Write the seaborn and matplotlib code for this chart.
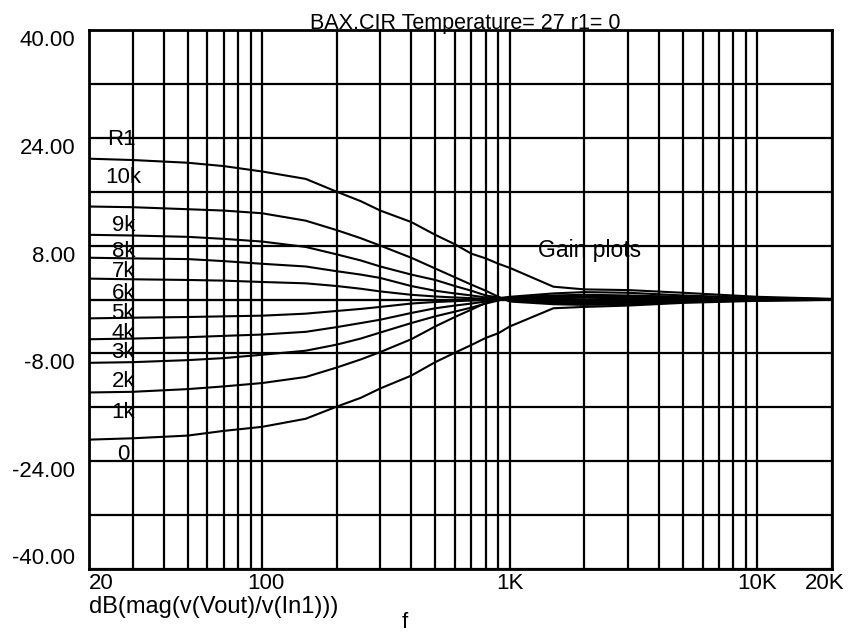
import matplotlib
matplotlib.use("Agg")
import matplotlib.pyplot as plt
from matplotlib.ticker import FixedLocator, NullFormatter
from matplotlib.transforms import ScaledTranslation
import seaborn as sns
import pandas as pd

# ---------------- data ----------------
freqs = [20, 30, 50, 70, 100, 150, 200, 250, 300, 400, 500, 600, 700, 800, 900, 1000,
         1500, 2000, 3000, 5000, 10000, 20000]
r1_names = ["10k", "9k", "8k", "7k", "6k", "5k", "4k", "3k", "2k", "1k", "0"]
g10k = [20.9, 20.7, 20.3, 19.8, 19.0, 17.9, 16.0, 14.6, 13.2, 11.5, 9.6, 8.2, 6.8, 6.1, 5.3, 4.7,
        1.9, 1.5, 1.4, 1.0, 0.4, 0.1]
g9k = [13.8, 13.7, 13.4, 13.2, 12.8, 11.7, 10.3, 9.1, 8.0, 6.2, 4.6, 3.3, 2.2, 1.3, 0.4, -0.3,
       -0.7, -0.8, -0.7, -0.4, -0.15, -0.05]
g8k = [9.6, 9.5, 9.3, 9.0, 8.6, 7.8, 6.7, 5.8, 4.9, 3.7, 2.9, 2.0, 1.3, 0.6, 0.3, -0.2,
       -0.5, -0.6, -0.5, -0.3, -0.1, 0.0]
g7k = [6.2, 6.1, 6.0, 5.7, 5.3, 4.9, 4.2, 3.7, 3.2, 2.0, 1.3, 0.9, 0.6, 0.3, 0.2, -0.1,
       -0.3, -0.4, -0.3, -0.2, -0.1, 0.0]
g6k = [3.1, 3.0, 2.9, 2.8, 2.6, 2.4, 2.0, 1.6, 1.2, 0.7, 0.45, 0.3, 0.2, 0.1, 0.1, 0.0,
       -0.1, -0.2, -0.15, -0.1, 0.0, 0.0]
g5k = [0.0, 0.0, 0.0, 0.0, 0.0, 0.0, 0.0, 0.0, 0.0, 0.0, 0.0, 0.0, 0.0, 0.0, 0.0, 0.0,
       0.0, 0.0, 0.0, 0.0, 0.0, 0.0]
g4k = [-2.8, -2.7, -2.6, -2.5, -2.4, -2.1, -1.7, -1.4, -1.1, -0.6, -0.37, -0.25, -0.15, -0.08, -0.05, 0.1,
       0.2, 0.25, 0.2, 0.1, 0.05, 0.0]
g3k = [-5.9, -5.8, -5.6, -5.4, -5.2, -4.8, -4.1, -3.5, -3.0, -2.0, -1.3, -0.9, -0.6, -0.3, -0.1, 0.2,
       0.4, 0.5, 0.4, 0.25, 0.1, 0.0]
g2k = [-9.4, -9.3, -9.0, -8.7, -8.2, -7.6, -6.7, -5.8, -4.9, -3.5, -2.5, -1.8, -1.2, -0.6, -0.15, 0.3,
       0.6, 0.7, 0.6, 0.4, 0.15, 0.05]
g1k = [-13.8, -13.7, -13.3, -12.9, -12.4, -11.5, -10.1, -8.9, -7.8, -5.9, -4.0, -2.6, -1.5, -0.5, 0.2, 0.4,
       0.9, 1.1, 1.0, 0.6, 0.25, 0.05]
g0 = [-20.8, -20.6, -20.2, -19.5, -18.9, -17.7, -15.9, -14.6, -13.2, -11.3, -9.3, -7.9, -6.75, -5.7, -5.0, -4.0,
      -1.3, -1.1, -0.9, -0.5, -0.2, -0.05]
series = [g10k, g9k, g8k, g7k, g6k, g5k, g4k, g3k, g2k, g1k, g0]

label_y = [18.1, 11.0, 7.1, 4.2, 0.9, -2.1, -5.0, -7.9, -12.2, -16.8, -23.0]
label_hdr_y = 23.7

x_major = [20, 100, 1000, 10000, 20000]
x_major_labels = ["20", "100", "1K", "10K", "20K"]
x_minor = [30, 40, 50, 60, 70, 80, 90, 200, 300, 400, 500, 600, 700, 800, 900,
           2000, 3000, 4000, 5000, 6000, 7000, 8000, 9000]
y_major = [-40, -24, -8, 8, 24, 40]
y_major_labels = ["-40.00", "-24.00", "-8.00", "8.00", "24.00", "40.00"]
y_minor = [-32, -16, 0, 16, 32]

title = "BAX.CIR Temperature= 27 r1= 0"
trace_label = "dB(mag(v(Vout)/v(In1)))"
x_name = "f"
note = "Gain plots"

# ---------------- build frame ----------------
rows = []
for name, vals in zip(r1_names, series):
    for f, v in zip(freqs, vals):
        rows.append({"f": f, "dB": v, "R1": name})
df = pd.DataFrame(rows)

sns.set_style("white")
plt.rcParams["font.family"] = ["Liberation Sans", "DejaVu Sans"]
plt.rcParams["text.color"] = "black"
FS = 16

W, H = 849, 633
fig = plt.figure(figsize=(W / 100, H / 100), dpi=100)
L, R, T, B = 89, 832, 30, 569
ax = fig.add_axes([L / W, 1 - B / H, (R - L) / W, (B - T) / H])

sns.lineplot(data=df, x="f", y="dB", hue="R1", hue_order=r1_names,
             palette=["black"] * len(r1_names), legend=False,
             estimator=None, errorbar=None, linewidth=1.5, ax=ax, zorder=3)

ax.set_xscale("log")
ax.set_xlim(20, 20000)
ax.set_ylim(-40, 40)

ax.xaxis.set_major_locator(FixedLocator(x_major))
ax.xaxis.set_minor_locator(FixedLocator(x_minor))
ax.xaxis.set_minor_formatter(NullFormatter())
ax.set_xticklabels(x_major_labels)
ax.yaxis.set_major_locator(FixedLocator(y_major))
ax.yaxis.set_minor_locator(FixedLocator(y_minor))
ax.set_yticklabels(y_major_labels)

ax.grid(True, which="both", color="black", linewidth=1.6)
ax.set_axisbelow(True)
ax.tick_params(which="both", length=0, labelsize=FS, colors="black", labelcolor="black")
ax.tick_params(axis="x", pad=3)
ax.tick_params(axis="y", pad=10)
for sp in ax.spines.values():
    sp.set_color("black")
    sp.set_linewidth(2)

for lab in ax.get_yticklabels():
    lab.set_va("bottom" if lab.get_text() == "-40.00" else "top")
for lab in ax.get_xticklabels():
    t = lab.get_text()
    if t == "20":
        lab.set_ha("left")
    elif t == "20K":
        lab.set_transform(lab.get_transform() + ScaledTranslation(-7 / 100, 0, fig.dpi_scale_trans))
    elif t == "100":
        lab.set_transform(lab.get_transform() + ScaledTranslation(4 / 100, 0, fig.dpi_scale_trans))

ax.set_xlabel("")
ax.set_ylabel("")

# curve labels
ax.text(27, label_hdr_y, "R1", fontsize=FS, ha="center", va="center", zorder=4, color="black")
for name, yv in zip(r1_names, label_y):
    ax.text(27.5, yv, name, fontsize=FS, ha="center", va="center", zorder=4, color="black")

ax.text(2107, 7.3, note, fontsize=16.5, ha="center", va="center", zorder=4, color="black")

fig.text(465 / W, 1 - 29 / H, title, fontsize=15.5, ha="center", va="baseline", color="black")
fig.text(89 / W, 1 - 607 / H, trace_label, fontsize=17, ha="left", va="center", color="black")
fig.text(405 / W, 1 - 623 / H, x_name, fontsize=FS, ha="center", va="center", color="black")

fig.savefig("out.png", dpi=100)
